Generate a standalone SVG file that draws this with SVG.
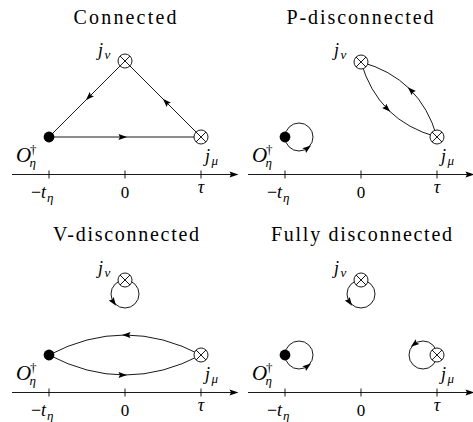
<svg xmlns="http://www.w3.org/2000/svg" width="473" height="422" viewBox="0 0 473 422" font-family="'Liberation Serif', 'DejaVu Serif', serif">
<style>
.ln{fill:none;stroke:#000;stroke-width:0.9}
.title{font-family:'Liberation Serif','DejaVu Serif',serif;font-size:20px;fill:#000;text-anchor:middle}
.m{font-family:'Liberation Serif','DejaVu Serif',serif;font-style:italic;fill:#000}
.r{font-family:'Liberation Serif','DejaVu Serif',serif;fill:#000}
</style>
<defs>
<path id="ah" d="M4.5,0 L-4,-3 L-2.6,0 L-4,3 Z" fill="#000"/>
<g id="otimes">
<circle r="7" fill="#fff" stroke="#000" stroke-width="0.9"/>
<path d="M-4.95,-4.95 L4.95,4.95 M-4.95,4.95 L4.95,-4.95" stroke="#000" stroke-width="0.9"/>
</g>
<circle id="dot" r="5.4" fill="#000"/>
<g id="axis">
<path d="M12,174.5 H233 M49,170.5 V178.5 M125,170.5 V178.5 M201,170.5 V178.5" stroke="#000" stroke-width="0.9" fill="none"/>
<path d="M238.5,174.5 L229.5,171.5 L231,174.5 L229.5,177.5 Z" fill="#000"/>
<text class="r" x="31" y="198" font-size="18">−</text>
<text class="m" x="41" y="198" font-size="18">t</text>
<text class="m" x="47" y="201.5" font-size="13">η</text>
<text class="r" x="125" y="198" font-size="17" text-anchor="middle">0</text>
<text class="m" x="201" y="193" font-size="18" text-anchor="middle">τ</text>
</g>
<g id="lblO">
<text class="m" x="16" y="162" font-size="21">O</text>
<text class="r" x="30" y="154" font-size="13">†</text>
<text class="m" x="29.5" y="167" font-size="13">η</text>
</g>
<g id="lblV">
<text class="m" x="98" y="56" font-size="18">j</text>
<text class="m" x="104.5" y="59" font-size="13">ν</text>
</g>
<g id="lblM">
<text class="m" x="205" y="162" font-size="18">j</text>
<text class="m" x="211.5" y="164.5" font-size="13">μ</text>
</g>
</defs>

<!-- Panel 1: Connected -->
<g id="panel-connected">
<text class="title" x="125" y="24" textLength="103" lengthAdjust="spacing">Connected</text>
<use href="#axis"/>
<g id="p1-connectors">
<path class="ln" d="M125,61 L49,137 M49,137 L201,137 M201,137 L125,61"/>
<use href="#ah" transform="translate(89,97) rotate(135)"/>
<use href="#ah" transform="translate(122.5,137)"/>
<use href="#ah" transform="translate(166,102) rotate(225)"/>
</g>
<g id="p1-O"><use href="#dot" x="49" y="137"/><use href="#lblO"/></g>
<g id="p1-jnu"><use href="#otimes" x="125" y="61"/><use href="#lblV"/></g>
<g id="p1-jmu"><use href="#otimes" x="201" y="137"/><use href="#lblM"/></g>
</g>

<!-- Panel 2: P-disconnected -->
<g id="panel-p" transform="translate(236,0)">
<text class="title" x="124" y="24" textLength="147" lengthAdjust="spacing">P-disconnected</text>
<use href="#axis"/>
<g id="p2-connectors">
<path class="ln" d="M125,62 Q184.1,78.2 201,137"/>
<path class="ln" d="M125,62 Q141.9,120.8 201,137"/>
<circle class="ln" cx="63" cy="137" r="14"/>
<use href="#ah" transform="translate(175,90.3) rotate(224.6)"/>
<use href="#ah" transform="translate(151,108.7) rotate(44.6)"/>
<use href="#ah" transform="translate(71.4,148.2) rotate(-37)"/>
</g>
<g id="p2-O"><use href="#dot" x="49" y="137"/><use href="#lblO"/></g>
<g id="p2-jnu"><use href="#otimes" x="125" y="62"/><use href="#lblV"/></g>
<g id="p2-jmu"><use href="#otimes" x="201" y="137"/><use href="#lblM"/></g>
</g>

<!-- Panel 3: V-disconnected -->
<g id="panel-v" transform="translate(0,218)">
<text class="title" x="126" y="23" textLength="146" lengthAdjust="spacing">V-disconnected</text>
<use href="#axis"/>
<g id="p3-connectors">
<circle class="ln" cx="125" cy="76" r="14"/>
<path class="ln" d="M49,137 Q125,97 201,137"/>
<path class="ln" d="M49,137 Q125,177 201,137"/>
<use href="#ah" transform="translate(113.5,84) rotate(55)"/>
<use href="#ah" transform="translate(126.5,117) rotate(180)"/>
<use href="#ah" transform="translate(122.5,157)"/>
</g>
<g id="p3-O"><use href="#dot" x="49" y="137"/><use href="#lblO"/></g>
<g id="p3-jnu"><use href="#otimes" x="125" y="62"/><use href="#lblV"/></g>
<g id="p3-jmu"><use href="#otimes" x="201" y="137"/><use href="#lblM"/></g>
</g>

<!-- Panel 4: Fully disconnected -->
<g id="panel-full" transform="translate(236,218)">
<text class="title" x="125.5" y="23" textLength="181" lengthAdjust="spacing">Fully disconnected</text>
<use href="#axis"/>
<g id="p4-connectors">
<circle class="ln" cx="125" cy="76" r="14"/>
<circle class="ln" cx="63" cy="137" r="14"/>
<circle class="ln" cx="187" cy="137" r="14"/>
<use href="#ah" transform="translate(113.5,84) rotate(55)"/>
<use href="#ah" transform="translate(71.4,148.2) rotate(-37)"/>
<use href="#ah" transform="translate(178.4,126) rotate(142)"/>
</g>
<g id="p4-O"><use href="#dot" x="49" y="137"/><use href="#lblO"/></g>
<g id="p4-jnu"><use href="#otimes" x="125" y="62"/><use href="#lblV"/></g>
<g id="p4-jmu"><use href="#otimes" x="201" y="137"/><use href="#lblM"/></g>
</g>
</svg>
